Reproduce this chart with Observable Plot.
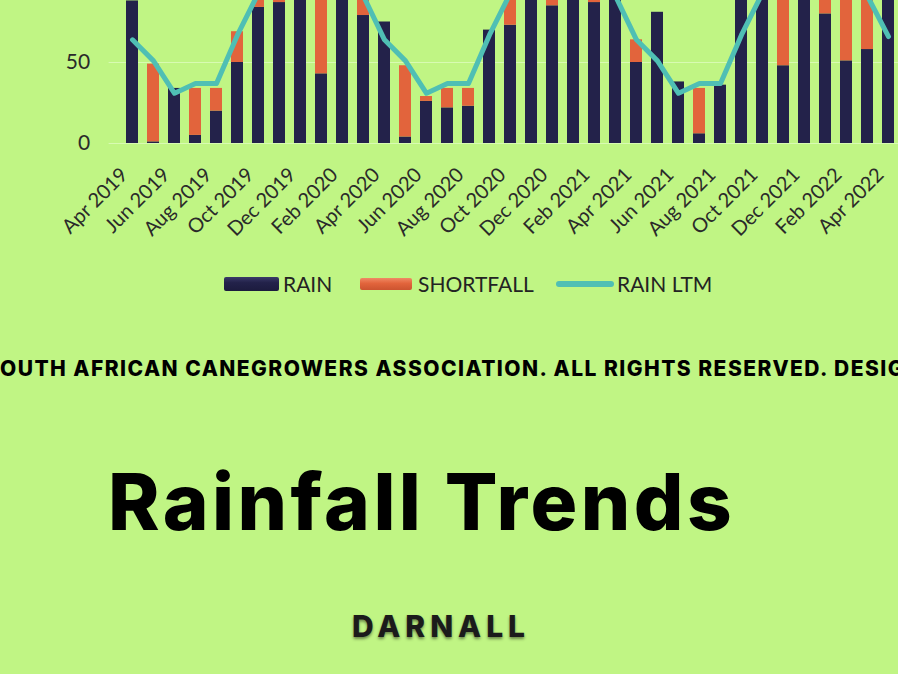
<!DOCTYPE html>
<html>
<head>
<meta charset="utf-8">
<script src="https://cdn.jsdelivr.net/npm/d3@7"></script>
<script src="https://cdn.jsdelivr.net/npm/@observablehq/plot@0.6"></script>
<style>
  html, body { margin: 0; padding: 0; width: 898px; height: 674px; overflow: hidden; background: #c0f584; }
  #chart { position: absolute; left: 0; top: -110px; }
  .lg { position: absolute; font-family: Lato, "Open Sans", sans-serif; font-size: 21px; color: #232323; line-height: 22px; top: 273px; }
  .sw { position: absolute; }
  .txt { position: absolute; white-space: nowrap; font-family: Inter, "Noto Sans", sans-serif; line-height: 1; }
</style>
</head>
<body>
<div id="chart"></div>

<div class="sw" style="left:224px; top:277px; width:55px; height:14px; background:linear-gradient(#3a3a68,#23224a 40%,#1c1b3e); border-radius:2px;"></div>
<div class="lg" id="l1" style="left:283px;">RAIN</div>
<div class="sw" style="left:360px; top:278px; width:52px; height:12px; background:linear-gradient(#f08a64,#e2643c 45%,#cc5430); border-radius:2px;"></div>
<div class="lg" id="l2" style="left:418px;">SHORTFALL</div>
<div class="sw" style="left:556px; top:281px; width:58px; height:6px; background:#4fbfb4; border-radius:3px;"></div>
<div class="lg" id="l3" style="left:617px;">RAIN LTM</div>

<div id="footer" class="txt" style="left:0px; top:358px; font-size:21px; font-weight:800; color:#000;">OUTH AFRICAN CANEGROWERS ASSOCIATION. ALL RIGHTS RESERVED. DESIG</div>
<div id="title" class="txt" style="left:108px; top:463px; font-size:78px; font-weight:800; color:#000;">Rainfall Trends</div>
<div id="loc" class="txt" style="left:352px; top:611px; font-size:30px; font-weight:800; color:#1b1b1b; text-shadow: 0 2px 3px rgba(0,0,0,0.45);">DARNALL</div>

<script>
const months = ["Apr 2019","May 2019","Jun 2019","Jul 2019","Aug 2019","Sep 2019","Oct 2019","Nov 2019","Dec 2019",
  "Jan 2020","Feb 2020","Mar 2020","Apr 2020","May 2020","Jun 2020","Jul 2020","Aug 2020","Sep 2020","Oct 2020","Nov 2020","Dec 2020",
  "Jan 2021","Feb 2021","Mar 2021","Apr 2021","May 2021","Jun 2021","Jul 2021","Aug 2021","Sep 2021","Oct 2021","Nov 2021","Dec 2021",
  "Jan 2022","Feb 2022","Mar 2022","Apr 2022"];
const rain = [88,1,34,5,20,50,84,87,110,43,120,79,75,4,26,22,23,70,73,110,85,140,87,100,50,81,38,6,36,100,120,48,130,80,51,58,95];
const shortfall = [0,48,0,29,14,19,8,20,0,90,0,12,0,44,3,12,11,0,18,0,25,0,40,0,14,0,0,28,0,0,0,60,0,50,80,35,0];
const rainLTM = [64,51,31,37,37,67,93,110,120,130,125,91,64,51,31,37,37,67,93,110,120,130,125,91,64,51,31,37,37,67,93,110,120,130,125,91,66];
const tickLabels = ["Apr 2019","Jun 2019","Aug 2019","Oct 2019","Dec 2019","Feb 2020","Apr 2020","Jun 2020","Aug 2020","Oct 2020","Dec 2020",
  "Feb 2021","Apr 2021","Jun 2021","Aug 2021","Oct 2021","Dec 2021","Feb 2022","Apr 2022"];
const yTicks = [0, 50, 100];
const yLabels = [0, 50];
const seriesNames = ["RAIN", "SHORTFALL", "RAIN LTM"];
const colors = ["#23224a", "#e2643c", "#4fbfb4"];

const bars = [
  ...months.map((m, i) => ({month: m, type: seriesNames[0], value: rain[i]})),
  ...months.map((m, i) => ({month: m, type: seriesNames[1], value: shortfall[i]}))
];
const ltm = months.map((m, i) => ({month: m, value: rainLTM[i]}));

const chart = Plot.plot({
  width: 920,
  height: 353,
  marginLeft: 108.6,
  marginRight: 9.6,
  marginTop: 10,
  marginBottom: 100,
  style: {background: "transparent", maxWidth: "none", overflow: "visible",
          fontFamily: 'Lato, "Open Sans", sans-serif', fontSize: "21px", color: "#2a2a2a"},
  x: {type: "band", domain: months, padding: 0.44},
  y: {domain: [0, 150]},
  color: {domain: seriesNames, range: colors},
  marks: [
    Plot.ruleY(yTicks, {stroke: "#e8ffd0", strokeOpacity: 0.6, strokeWidth: 1}),
    Plot.barY(bars, {x: "month", y: "value", fill: "type", order: seriesNames}),
    Plot.line(ltm, {x: "month", y: "value", stroke: colors[2], strokeWidth: 5, strokeLinejoin: "round", strokeLinecap: "round"}),
    Plot.axisY({ticks: yLabels, tickSize: 0, tickPadding: 19, fontSize: 21, label: null}),
    Plot.axisX({ticks: tickLabels, tickSize: 0, tickPadding: 28, tickRotate: -45, fontSize: 20, dx: -8, label: null})
  ]
});
document.getElementById("chart").appendChild(chart);

function fit(id, target) {
  const el = document.getElementById(id);
  const n = el.textContent.length;
  el.style.letterSpacing = "0px";
  const w = el.getBoundingClientRect().width;
  el.style.letterSpacing = ((target - w) / n) + "px";
}
fit("title", 627);
fit("footer", 905);
fit("loc", 178);
</script>
</body>
</html>
